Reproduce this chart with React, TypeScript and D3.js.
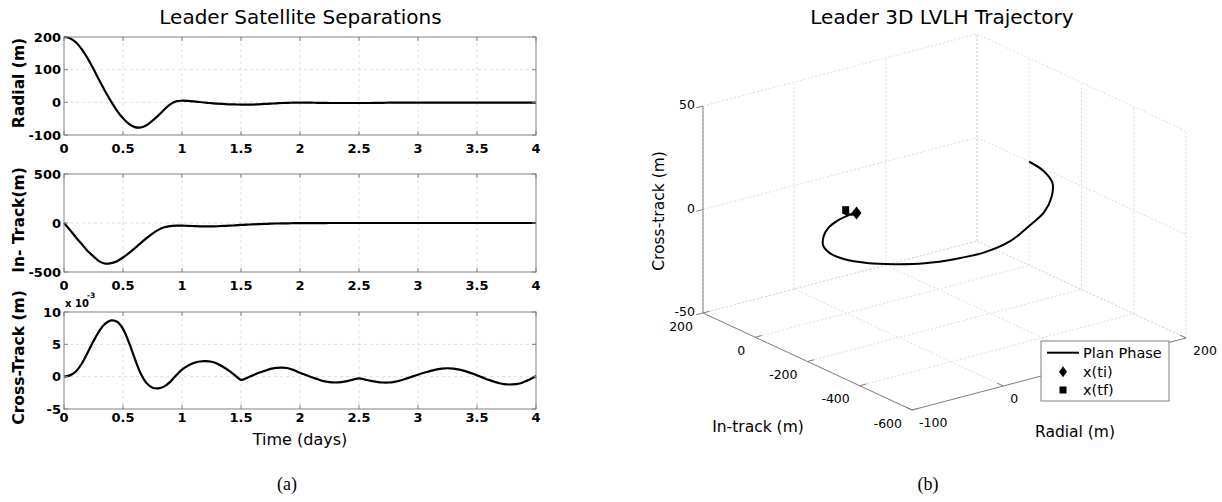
import React from 'react';
import * as d3 from 'd3';

// ---------- data ----------
const timeDays = [
  0, 0.05, 0.1, 0.15, 0.2, 0.25, 0.3, 0.35, 0.4, 0.45, 0.5, 0.55, 0.6, 0.65, 0.7, 0.75, 0.8, 0.85, 0.9, 0.95,
  1.0, 1.05, 1.1, 1.15, 1.2, 1.25, 1.3, 1.35, 1.4, 1.45, 1.5, 1.55, 1.6, 1.65, 1.7, 1.75, 1.8, 1.85, 1.9, 1.95,
  2.0, 2.05, 2.1, 2.15, 2.2, 2.25, 2.3, 2.35, 2.4, 2.45, 2.5, 2.55, 2.6, 2.65, 2.7, 2.75, 2.8, 2.85, 2.9, 2.95,
  3.0, 3.05, 3.1, 3.15, 3.2, 3.25, 3.3, 3.35, 3.4, 3.45, 3.5, 3.55, 3.6, 3.65, 3.7, 3.75, 3.8, 3.85, 3.9, 3.95,
  4.0,
];

const radialM = [
  200, 196, 184, 163, 135, 102, 67, 33, 2, -26, -49, -66, -76, -77, -70, -56, -40, -22, -6, 3,
  5, 4.5, 3, 1, -1, -2.5, -4, -5, -6, -6.5, -7, -7, -7, -6, -5, -4, -3, -2, -1.5, -1,
  -1, -1, -1, -1.5, -1.5, -2, -2, -2, -2, -2, -2, -2, -2, -1.5, -1.5, -1, -1, -1, -1, -1,
  -1, -1, -1, -1, -1, -1, -1, -1, -1, -1, -1, -1, -1, -1, -1, -1, -1, -1, -1, -1,
  -1,
];

const inTrackM = [
  0, -70, -145, -215, -285, -340, -392, -415, -410, -390, -352, -308, -258, -205, -155, -108, -70, -44, -31, -27,
  -27, -29, -31, -34, -35, -35, -33, -30, -27, -24, -20, -17, -14, -11, -9, -7, -5, -4, -3, -2,
  -1, -1, -1, -1, -1, 0, 0, 0, 0, 0, 0, 0, 0, 0, 0, 0, 0, 0, 0, 0,
  0, 0, 0, 0, 0, 0, 0, 0, 0, 0, 0, 0, 0, 0, 0, 0, 0, 0, 0, 0,
  0,
];

// cross-track in units of 1e-3 m
const crossTrackMilli = [
  0, 0.2, 0.8, 2.0, 3.7, 5.5, 7.1, 8.2, 8.7, 8.5, 7.4, 5.3, 2.8, 0.5, -1.0, -1.7, -1.8, -1.5, -0.8, 0.2,
  1.1, 1.7, 2.1, 2.35, 2.4, 2.3, 2.0, 1.5, 0.9, 0.2, -0.5, -0.2, 0.2, 0.6, 0.9, 1.2, 1.35, 1.4, 1.3, 1.0,
  0.6, 0.25, -0.1, -0.4, -0.7, -0.85, -0.9, -0.85, -0.7, -0.45, -0.25, -0.45, -0.65, -0.8, -0.9, -0.9, -0.8, -0.6, -0.3, 0.0,
  0.3, 0.6, 0.85, 1.1, 1.25, 1.3, 1.25, 1.1, 0.85, 0.55, 0.2, -0.15, -0.5, -0.8, -1.05, -1.2, -1.2, -1.1, -0.8, -0.4,
  0.1,
];

const timeTicks = [0, 0.5, 1, 1.5, 2, 2.5, 3, 3.5, 4];
const radialTicks = [-100, 0, 100, 200];
const inTrackTicks = [-500, 0, 500];
const crossTrackTicks = [-5, 0, 5, 10];

const radialTicks3D = [-100, 0, 100, 200];
const inTrackTicks3D = [200, 0, -200, -400, -600];
const crossTicks3D = [-50, 0, 50];

// [radial, in-track, cross-track]
const pointTi = [2, -31, 0];
const pointTf = [-1, 0, 0];

const legendLabels = ['Plan Phase', 'x(ti)', 'x(tf)'];

// ---------- constants ----------
const W = 1222;
const H = 502;
const FONT = "'DejaVu Sans', sans-serif";
const AXIS = '#808080';
const GRID = '#d4d4d4';
const LEGEND = { x: 1041, y: 341, w: 128, h: 60 };

export default function App() {
  const x = d3.scaleLinear().domain([0, 4]).range([64, 536]);
  const line = d3.line<[number, number]>().curve(d3.curveCatmullRom.alpha(0.5));

  const panels = [
    { label: 'Radial (m)', values: radialM, domain: [-100, 200], ticks: radialTicks, top: 37, bottom: 135, xlb: 152.5 },
    { label: 'In- Track(m)', values: inTrackM, domain: [-500, 500], ticks: inTrackTicks, top: 174, bottom: 272, xlb: 289.5 },
    { label: 'Cross-Track (m)', values: crossTrackMilli, domain: [-5, 10], ticks: crossTrackTicks, top: 312, bottom: 409, xlb: 422 },
  ];

  // ---------- 3D projection ----------
  const O = { x: 703, y: 313 };
  const Rv = { x: 274, y: -72 };
  const Iv = { x: 209, y: 97 };
  const Zv = { x: 0, y: -207 };
  const uS = d3.scaleLinear().domain([-100, 200]).range([0, 1]);
  const vS = d3.scaleLinear().domain([200, -600]).range([0, 1]);
  const wS = d3.scaleLinear().domain([-50, 50]).range([0, 1]);
  const proj = (r: number, i: number, c: number): [number, number] => [
    O.x + uS(r) * Rv.x + vS(i) * Iv.x + wS(c) * Zv.x,
    O.y + uS(r) * Rv.y + vS(i) * Iv.y + wS(c) * Zv.y,
  ];
  const rMin = -100, rMax = 200, iMin = 200, iMax = -600, cMin = -50, cMax = 50;

  const grid3D: [number, number][][] = [];
  // floor
  inTrackTicks3D.forEach((i) => grid3D.push([proj(rMin, i, cMin), proj(rMax, i, cMin)]));
  radialTicks3D.forEach((r) => grid3D.push([proj(r, iMin, cMin), proj(r, iMax, cMin)]));
  // left back wall (in-track = 200)
  radialTicks3D.forEach((r) => grid3D.push([proj(r, iMin, cMin), proj(r, iMin, cMax)]));
  crossTicks3D.forEach((c) => grid3D.push([proj(rMin, iMin, c), proj(rMax, iMin, c)]));
  // right back wall (radial = 200)
  inTrackTicks3D.forEach((i) => grid3D.push([proj(rMax, i, cMin), proj(rMax, i, cMax)]));
  crossTicks3D.forEach((c) => grid3D.push([proj(rMax, iMin, c), proj(rMax, iMax, c)]));

  const rUnit = [Rv.x / Math.hypot(Rv.x, Rv.y), Rv.y / Math.hypot(Rv.x, Rv.y)];
  const iUnit = [Iv.x / Math.hypot(Iv.x, Iv.y), Iv.y / Math.hypot(Iv.x, Iv.y)];
  const tickLen = 7;

  const traj = timeDays.map((_, k) => proj(radialM[k], inTrackM[k], crossTrackMilli[k] / 1000));
  const ti = proj(pointTi[0], pointTi[1], pointTi[2]);
  const tf = proj(pointTf[0], pointTf[1], pointTf[2]);

  const diamond = (cx: number, cy: number, w: number, h: number) =>
    `M${cx},${cy - h / 2}L${cx + w / 2},${cy}L${cx},${cy + h / 2}L${cx - w / 2},${cy}Z`;

  const underLegend = (px: number, py: number) =>
    px >= LEGEND.x && px <= LEGEND.x + LEGEND.w && py >= LEGEND.y && py <= LEGEND.y + LEGEND.h;

  return (
    <svg width={W} height={H} style={{ position: 'absolute', left: 0, top: 0 }} fontFamily={FONT}>
      <rect width={W} height={H} fill="#fff" />

      {/* ================= LEFT PANEL ================= */}
      <text x={300.5} y={24} fontSize={20} textAnchor="middle">Leader Satellite Separations</text>
      {panels.map((p) => {
        const y = d3.scaleLinear().domain(p.domain).range([p.bottom, p.top]);
        const pts = timeDays.map((t, k) => [x(t), y(p.values[k])] as [number, number]);
        const cy = (p.top + p.bottom) / 2 - 3;
        return (
          <g key={p.label}>
            {timeTicks.slice(1, -1).map((t) => (
              <line key={'gx' + t} x1={x(t)} x2={x(t)} y1={p.top} y2={p.bottom} stroke={GRID} strokeDasharray="3,3" strokeWidth={0.8} />
            ))}
            {p.ticks.slice(1, -1).map((v) => (
              <line key={'gy' + v} x1={64} x2={536} y1={y(v)} y2={y(v)} stroke={GRID} strokeDasharray="3,3" strokeWidth={0.8} />
            ))}
            <path d={line(pts) || ''} fill="none" stroke="#000" strokeWidth={2.2} />
            <rect x={64} y={p.top} width={472} height={p.bottom - p.top} fill="none" stroke={AXIS} strokeWidth={1} />
            {timeTicks.map((t) => (
              <g key={'tx' + t}>
                <line x1={x(t)} x2={x(t)} y1={p.bottom} y2={p.bottom - 4} stroke={AXIS} />
                <line x1={x(t)} x2={x(t)} y1={p.top} y2={p.top + 4} stroke={AXIS} />
                <text x={x(t)} y={p.xlb} fontSize={13} fontWeight="bold" textAnchor="middle">{t}</text>
              </g>
            ))}
            {p.ticks.map((v) => (
              <g key={'ty' + v}>
                <line x1={64} x2={68} y1={y(v)} y2={y(v)} stroke={AXIS} />
                <line x1={536} x2={532} y1={y(v)} y2={y(v)} stroke={AXIS} />
                <text x={61} y={y(v)} dy="0.36em" fontSize={13} fontWeight="bold" textAnchor="end">{v}</text>
              </g>
            ))}
            <text transform={`translate(24,${cy}) rotate(-90)`} fontSize={15.5} fontWeight="bold" textAnchor="middle">{p.label}</text>
          </g>
        );
      })}
      <text x={65} y={307} fontSize={10} fontWeight="bold">x 10</text>
      <text x={87} y={298} fontSize={7.5} fontWeight="bold">-3</text>
      <text x={300} y={445} fontSize={16} textAnchor="middle">Time (days)</text>
      <text x={287} y={490} fontSize={18} fontFamily="'Liberation Serif', serif" textAnchor="middle">(a)</text>

      {/* ================= RIGHT PANEL ================= */}
      <text x={942} y={24} fontSize={20} textAnchor="middle">Leader 3D LVLH Trajectory</text>
      {grid3D.map((seg, k) => (
        <line key={'g3' + k} x1={seg[0][0]} y1={seg[0][1]} x2={seg[1][0]} y2={seg[1][1]} stroke={GRID} strokeDasharray="2,2" strokeWidth={0.8} />
      ))}
      {/* axes */}
      {[
        [proj(rMin, iMin, cMin), proj(rMin, iMin, cMax)],
        [proj(rMin, iMin, cMin), proj(rMin, iMax, cMin)],
        [proj(rMin, iMax, cMin), proj(rMax, iMax, cMin)],
      ].map((seg, k) => (
        <line key={'ax' + k} x1={seg[0][0]} y1={seg[0][1]} x2={seg[1][0]} y2={seg[1][1]} stroke={AXIS} strokeWidth={1} />
      ))}
      {/* cross-track ticks */}
      {crossTicks3D.map((c) => {
        const [px, py] = proj(rMin, iMin, c);
        return (
          <g key={'c3' + c}>
            <line x1={px} y1={py} x2={px - rUnit[0] * tickLen} y2={py - rUnit[1] * tickLen} stroke={AXIS} />
            <text x={px - 8} y={py - 1.5} dy="0.36em" fontSize={12.5} textAnchor="end">{c}</text>
          </g>
        );
      })}
      {/* in-track ticks */}
      {inTrackTicks3D.map((i) => {
        const [px, py] = proj(rMin, i, cMin);
        return (
          <g key={'i3' + i}>
            <line x1={px} y1={py} x2={px + rUnit[0] * tickLen} y2={py + rUnit[1] * tickLen} stroke={AXIS} />
            <text x={px - 10} y={py + 13} dy="0.36em" fontSize={12.5} textAnchor="end">{i}</text>
          </g>
        );
      })}
      {/* radial ticks */}
      {radialTicks3D.map((r) => {
        const [px, py] = proj(r, iMax, cMin);
        const lx = px + 7, ly = py + 12;
        return (
          <g key={'r3' + r}>
            <line x1={px} y1={py} x2={px - iUnit[0] * tickLen} y2={py - iUnit[1] * tickLen} stroke={AXIS} />
            {!underLegend(lx, ly) && (
              <text x={lx} y={ly} dy="0.36em" fontSize={12.5} textAnchor="start">{r}</text>
            )}
          </g>
        );
      })}
      <text x={758} y={432} fontSize={15.5} textAnchor="middle">In-track (m)</text>
      <text x={1075} y={437} fontSize={15.5} textAnchor="middle">Radial (m)</text>
      <text transform="translate(664,211) rotate(-90)" fontSize={15.5} textAnchor="middle">Cross-track (m)</text>

      {/* trajectory */}
      <path d={line(traj) || ''} fill="none" stroke="#000" strokeWidth={2} />
      <rect x={tf[0] - 3.5} y={tf[1] - 3.8} width={7} height={7.6} fill="#000" />
      <path d={diamond(ti[0], ti[1], 10, 13)} fill="#000" />

      {/* legend */}
      <rect x={LEGEND.x} y={LEGEND.y} width={LEGEND.w} height={LEGEND.h} fill="#fff" stroke={AXIS} strokeWidth={1} />
      <line x1={1047} x2={1079} y1={352.7} y2={352.7} stroke="#000" strokeWidth={2} />
      <path d={diamond(1063, 371.7, 8, 11)} fill="#000" />
      <rect x={1059.5} y={386.5} width={7} height={7} fill="#000" />
      {legendLabels.map((lab, k) => (
        <text key={lab} x={1083} y={352.7 + k * 18.7} dy="0.36em" fontSize={14.5}>{lab}</text>
      ))}

      <text x={928} y={490} fontSize={18} fontFamily="'Liberation Serif', serif" textAnchor="middle">(b)</text>
    </svg>
  );
}
